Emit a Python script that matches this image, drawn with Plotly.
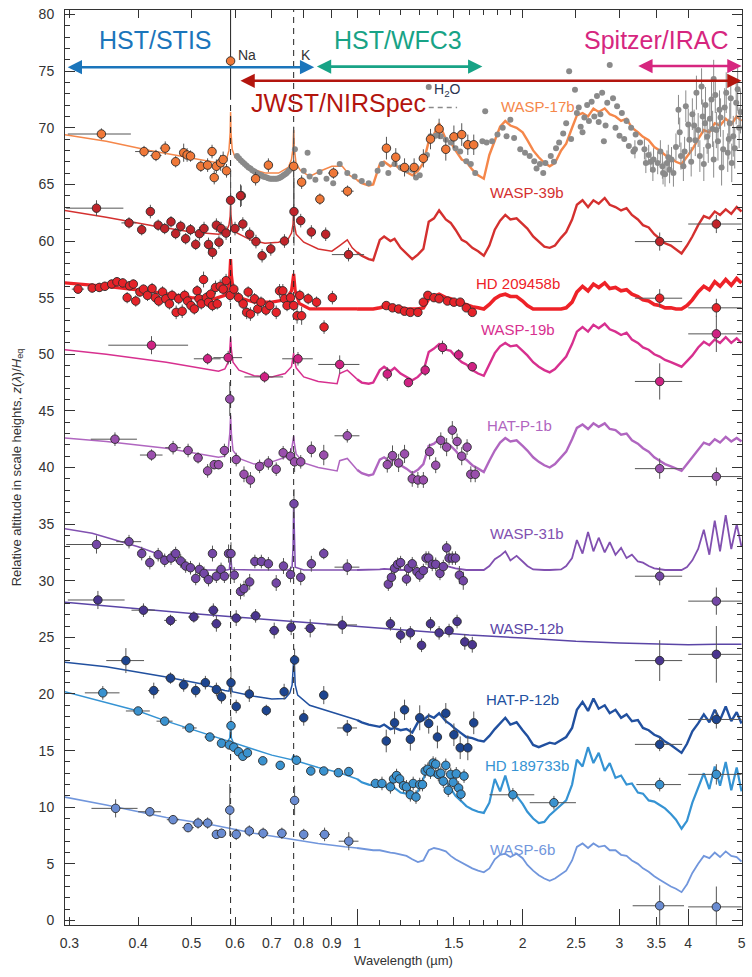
import numpy as np
import plotly.graph_objects as go

FONT = "Liberation Sans, Arial, sans-serif"

# Shared wavelength grid (um) for the near-infrared part of every model
nir_wl = [1.00, 1.02, 1.05, 1.07, 1.10, 1.12, 1.15, 1.17, 1.20, 1.23,
          1.26, 1.29, 1.32, 1.35, 1.38, 1.41, 1.45, 1.48, 1.51, 1.55,
          1.58, 1.62, 1.66, 1.70, 1.74, 1.78, 1.82, 1.86, 1.90, 1.95,
          2.00, 2.04, 2.09, 2.14, 2.19, 2.24, 2.29, 2.35, 2.40, 2.46,
          2.51, 2.57, 2.63, 2.69, 2.75, 2.82, 2.88, 2.95, 3.02, 3.09,
          3.16, 3.24, 3.31, 3.39, 3.47, 3.55, 3.63, 3.72, 3.80, 3.89,
          3.98, 4.07, 4.17, 4.27, 4.37, 4.47, 4.57, 4.68, 4.79, 4.90,
          5.00]

# ---------------- WASP-17b ----------------
w17_opt = [(0.294, 69.4), (0.35, 68.8), (0.42, 68.0), (0.50, 67.3), (0.56, 66.9),
           (0.578, 67.1), (0.585, 68.0), (0.588, 69.6), (0.589, 71.4), (0.590, 69.6),
           (0.593, 68.1), (0.60, 67.4), (0.62, 66.8), (0.65, 66.3), (0.68, 66.0),
           (0.72, 66.0), (0.75, 66.5), (0.76, 67.2), (0.765, 68.2), (0.767, 69.8),
           (0.769, 68.2), (0.775, 66.8), (0.79, 66.2), (0.82, 65.7), (0.86, 66.2),
           (0.90, 66.6), (0.94, 66.6), (0.97, 65.8), (1.00, 65.4)]
w17_nir = [65.4, 65.1, 64.9, 65.0, 66.8, 67.0, 66.6, 66.8, 66.3, 66.1,
           65.8, 66.2, 66.9, 68.8, 69.4, 70.4, 69.0, 68.7, 68.0, 67.2,
           67.0, 66.3, 65.8, 65.5, 67.6, 68.9, 70.1, 70.6, 70.2, 70.0,
           69.6, 68.9, 68.0, 67.4, 66.9, 66.6, 66.9, 68.0, 68.6, 70.0,
           71.1, 71.3, 71.0, 71.7, 71.4, 71.7, 71.2, 71.0, 70.6, 70.8,
           70.0, 69.6, 69.2, 68.9, 68.3, 68.0, 67.6, 67.3, 67.0, 66.8,
           67.5, 68.1, 69.0, 69.8, 69.6, 70.4, 70.2, 70.8, 70.3, 71.0,
           70.6]
w17_pts = [(0.343, 69.45, 0.5, 0.045), (0.410, 67.9, 0.5, 0.015), (0.431, 67.55, 0.5, 0.01),
           (0.448, 68.2, 0.6, 0.01), (0.468, 67.0, 0.5, 0.008), (0.484, 67.8, 0.8, 0.006),
           (0.491, 67.6, 0.6, 0.006), (0.498, 67.5, 0.5, 0.006), (0.520, 66.6, 0.5, 0.008),
           (0.535, 66.7, 0.6, 0.006), (0.545, 67.9, 0.6, 0.006), (0.550, 65.6, 0.6, 0.006),
           (0.555, 66.6, 0.6, 0.006), (0.565, 66.9, 0.7, 0.006), (0.571, 67.2, 0.7, 0.006),
           (0.579, 66.2, 0.6, 0.006), (0.589, 75.9, 0.3, 0.0), (0.616, 64.0, 0.9, 0.008),
           (0.654, 65.5, 0.6, 0.01), (0.690, 66.7, 0.6, 0.01), (0.767, 66.6, 3.5, 0.01),
           (0.793, 65.2, 0.6, 0.01), (0.856, 63.7, 0.5, 0.015), (0.906, 66.0, 0.5, 0.02),
           (0.961, 64.4, 0.5, 0.025), (1.131, 68.2, 1.0, 0.0), (1.176, 67.4, 0.8, 0.0),
           (1.22, 66.5, 0.8, 0.0), (1.27, 66.5, 0.8, 0.0), (1.32, 67.3, 0.8, 0.0),
           (1.36, 69.0, 0.9, 0.0), (1.41, 69.9, 0.9, 0.0), (1.45, 68.1, 1.0, 0.0),
           (1.50, 69.2, 1.0, 0.0), (1.55, 69.4, 1.0, 0.0), (1.59, 68.5, 0.9, 0.0),
           (1.63, 68.5, 0.9, 0.0)]

# grey WASP-17b points (no visible error bars)
grey_wl = [0.605, 0.61, 0.615, 0.62, 0.625, 0.63, 0.635, 0.64, 0.645, 0.65, 0.655, 0.66,
           0.665, 0.67, 0.675, 0.68, 0.685, 0.69, 0.695, 0.70, 0.705, 0.71, 0.715, 0.72,
           0.725, 0.73, 0.735, 0.74, 0.745, 0.75, 0.755, 0.76,
           0.771, 0.80, 0.813, 0.82, 0.84, 0.855, 0.88, 0.905, 0.93, 0.96, 0.99,
           1.02, 1.05, 1.09, 1.11, 1.14, 1.17, 1.20, 1.23, 1.26, 1.28, 1.30, 1.34, 1.36, 1.39,
           1.42, 1.45, 1.48, 1.51, 1.54, 1.58, 1.61, 1.64, 1.69, 1.72, 1.76, 1.35, 1.71, 1.80,
           1.84, 1.87, 1.90, 1.93, 1.98, 2.02, 2.06, 2.10, 2.15, 2.20, 2.25, 2.30, 2.33, 2.37,
           2.40, 2.43, 2.49, 2.51, 2.55, 2.59, 2.62, 2.67, 2.73, 2.79, 2.81, 2.85, 2.88, 2.92,
           2.97, 3.03, 3.09, 3.15, 3.21, 3.27, 2.70, 2.75, 2.95, 2.12, 2.18, 2.28, 2.45, 2.53,
           2.57, 2.64, 2.77, 2.83, 3.00, 3.06, 3.12, 3.18]
grey_y = [67.5, 67.3, 67.1, 66.95, 66.8, 66.65, 66.5, 66.4, 66.25, 66.15, 66.05, 65.95,
          65.85, 65.8, 65.7, 65.65, 65.6, 65.55, 65.5, 65.5, 65.5, 65.5, 65.5, 65.55,
          65.6, 65.7, 65.8, 65.9, 66.0, 66.15, 66.3, 66.45,
          68.1, 66.2, 67.8, 65.7, 65.4, 66.1, 65.5, 65.1, 66.8, 66.0, 65.7,
          65.3, 65.1, 66.2, 66.8, 66.0, 66.8, 66.5, 66.25, 66.3, 65.6, 65.8, 67.6, 69.25, 69.3,
          69.25, 68.95, 68.7, 68.2, 67.9, 67.05, 66.8, 66.0, 68.8, 68.7, 68.8, 73.6, 71.45, 69.4,
          70.0, 69.25, 70.7, 69.1, 68.1, 67.8, 67.5, 67.05, 66.8, 66.9, 67.5, 68.2, 68.7, 69.5,
          70.4, 75.0, 73.35, 71.3, 70.1, 70.9, 72.0, 72.3, 72.8, 73.1, 68.8, 72.2, 75.55, 72.6,
          71.9, 71.3, 70.6, 70.0, 69.4, 68.7, 71.0, 70.5, 70.0, 66.4, 66.0, 67.0, 69.0, 71.8,
          69.6, 70.6, 71.2, 70.2, 69.3, 69.0, 68.4, 67.9]
# grey points with error bars (Spitzer region)
grey2_wl = [3.20, 3.33, 3.35, 3.39, 3.45, 3.46, 3.52, 3.59, 3.60, 3.66, 3.70, 3.73, 3.76, 3.84,
            3.88, 3.92, 3.96, 4.02, 4.05, 4.10, 4.14, 4.20, 4.23, 4.27, 4.29, 4.30, 4.35, 4.41,
            4.45, 4.45, 4.50, 4.56, 4.60, 4.63, 4.69, 4.72, 4.76, 4.80, 4.83, 4.89, 4.95,
            3.42, 3.56, 3.63, 3.68, 3.80, 3.86, 3.94, 4.00, 4.07, 4.12, 4.17, 4.25, 4.33,
            4.38, 4.43, 4.48, 4.53, 4.58, 4.66, 4.74, 4.78, 4.86, 4.92, 4.98]
grey2_y = [68.1, 68.1, 66.9, 67.6, 66.3, 67.2, 66.9, 66.6, 66.0, 66.9, 66.3, 67.2, 66.0, 71.6,
           67.5, 66.6, 71.9, 68.95, 67.0, 70.2, 73.1, 67.5, 73.65, 66.8, 70.4, 72.0, 68.4, 72.5,
           67.2, 74.3, 69.8, 71.6, 66.5, 68.1, 73.1, 67.8, 70.4, 66.9, 69.25, 72.2, 70.0,
           67.0, 67.9, 65.9, 67.4, 68.3, 69.6, 67.9, 70.3, 71.2, 68.9, 69.8, 71.0, 69.2,
           70.8, 69.9, 72.9, 68.8, 70.9, 71.8, 69.0, 72.6, 68.2, 73.4, 71.4]
grey2_dy = [0.8, 0.9, 0.9, 0.9, 1.0, 1.0, 1.0, 1.1, 1.0, 1.1, 1.2, 1.1, 1.2, 1.3,
            1.2, 1.3, 1.4, 1.3, 1.3, 1.4, 1.5, 1.4, 1.6, 1.5, 1.5, 1.6, 1.5, 1.6,
            1.6, 1.7, 1.6, 1.7, 1.6, 1.7, 1.8, 1.7, 1.8, 1.7, 1.8, 1.9, 1.8,
            0.9, 1.0, 1.1, 1.1, 1.2, 1.3, 1.3, 1.4, 1.4, 1.4, 1.5, 1.5, 1.5,
            1.6, 1.6, 1.6, 1.7, 1.7, 1.7, 1.8, 1.8, 1.8, 1.9, 1.9]

# ---------------- WASP-39b ----------------
w39_opt = [(0.294, 62.7), (0.35, 62.1), (0.43, 61.3), (0.50, 60.8), (0.56, 60.6),
           (0.578, 60.8), (0.585, 61.4), (0.588, 62.2), (0.589, 63.2), (0.590, 62.2),
           (0.593, 61.3), (0.60, 60.8), (0.64, 60.1), (0.68, 59.8), (0.72, 59.9),
           (0.75, 60.2), (0.76, 60.7), (0.765, 61.5), (0.767, 62.9), (0.769, 61.5),
           (0.775, 60.6), (0.80, 59.9), (0.85, 59.3), (0.90, 59.1), (0.93, 59.6),
           (0.96, 60.1), (0.98, 59.4), (1.00, 59.0)]
w39_nir = [59.0, 58.7, 58.4, 58.3, 60.1, 60.4, 60.0, 60.2, 59.4, 58.9,
           58.4, 58.8, 59.3, 61.7, 62.0, 62.7, 61.9, 61.6, 61.0, 60.1,
           59.9, 59.4, 59.1, 58.7, 59.6, 61.0, 61.8, 62.3, 61.9, 62.0,
           61.5, 61.1, 60.4, 59.9, 59.5, 59.4, 59.6, 60.3, 60.8, 61.9,
           63.2, 63.6, 63.0, 63.6, 63.3, 63.8, 63.2, 63.0, 62.7, 62.9,
           62.3, 61.9, 61.4, 61.2, 60.6, 60.2, 59.8, 59.6, 59.3, 58.9,
           59.6, 60.4, 61.4, 62.2, 62.0, 62.6, 62.3, 62.8, 62.4, 63.0,
           62.6]
w39_pts = [(0.336, 62.9, 0.7, 0.04), (0.385, 61.6, 0.5, 0.012), (0.406, 61.0, 0.5, 0.006),
           (0.421, 62.6, 0.6, 0.006), (0.435, 61.4, 0.5, 0.006), (0.447, 61.1, 0.5, 0.006),
           (0.459, 61.7, 0.5, 0.006), (0.468, 60.65, 0.5, 0.006), (0.478, 61.3, 0.5, 0.006),
           (0.488, 60.2, 0.5, 0.006), (0.498, 61.0, 0.5, 0.006), (0.509, 59.7, 0.5, 0.006),
           (0.517, 60.65, 0.6, 0.006), (0.527, 61.1, 0.6, 0.006), (0.537, 59.7, 0.6, 0.006),
           (0.546, 59.0, 0.6, 0.006), (0.555, 61.4, 0.6, 0.006), (0.561, 59.9, 0.6, 0.006),
           (0.566, 61.1, 0.6, 0.006), (0.578, 60.7, 0.6, 0.006), (0.589, 63.6, 2.5, 0.004),
           (0.600, 61.1, 0.6, 0.006), (0.614, 64.0, 1.0, 0.008), (0.620, 61.5, 0.6, 0.008),
           (0.638, 60.6, 0.6, 0.008), (0.655, 59.95, 0.6, 0.008), (0.672, 58.7, 0.6, 0.01),
           (0.697, 59.3, 0.6, 0.01), (0.738, 60.0, 0.6, 0.01), (0.768, 62.6, 3.0, 0.005),
           (0.790, 61.8, 0.6, 0.01), (0.826, 60.8, 0.6, 0.012), (0.877, 60.6, 0.6, 0.015),
           (0.965, 58.8, 0.6, 0.065), (3.55, 59.95, 0.8, 0.35), (4.5, 61.5, 0.8, 0.5)]

# ---------------- HD 209458b ----------------
hd209_opt = [(0.294, 56.3), (0.35, 56.0), (0.43, 55.5), (0.50, 55.0), (0.55, 54.9),
             (0.575, 55.2), (0.583, 55.8), (0.587, 57.0), (0.589, 58.4), (0.591, 57.0),
             (0.595, 55.8), (0.61, 55.0), (0.65, 54.6), (0.70, 54.6), (0.74, 54.8),
             (0.76, 55.6), (0.767, 57.1), (0.772, 55.6), (0.785, 54.5), (0.82, 54.0),
             (0.90, 54.0), (0.97, 54.0), (1.00, 54.0)]
hd209_nir = [54.0, 54.0, 54.0, 54.0, 54.1, 54.2, 54.1, 54.2, 54.1, 54.0,
             54.0, 54.0, 54.1, 54.9, 55.1, 55.3, 55.0, 54.9, 54.7, 54.5,
             54.4, 54.2, 54.1, 54.0, 54.4, 54.9, 55.2, 55.3, 55.1, 55.1,
             54.7, 54.3, 54.0, 54.0, 54.0, 54.0, 54.0, 54.0, 54.1, 54.6,
             55.5, 56.0, 55.6, 56.2, 55.9, 56.3, 55.8, 55.9, 55.6, 55.7,
             55.3, 55.1, 54.8, 54.7, 54.4, 54.3, 54.1, 54.1, 54.0, 54.0,
             54.3, 54.8, 55.5, 56.0, 55.7, 56.4, 56.0, 56.6, 56.1, 56.7,
             56.3]
hd209_pts = [(0.311, 55.75, 0.4, 0.008), (0.330, 55.85, 0.4, 0.006), (0.340, 55.9, 0.4, 0.006),
             (0.348, 56.0, 0.4, 0.005), (0.358, 56.2, 0.4, 0.005), (0.366, 56.4, 0.4, 0.005),
             (0.375, 56.3, 0.4, 0.005), (0.382, 55.0, 0.5, 0.004), (0.386, 56.05, 0.4, 0.004),
             (0.392, 56.2, 0.4, 0.004), (0.396, 54.7, 0.5, 0.004), (0.403, 55.5, 0.4, 0.004),
             (0.409, 55.75, 0.4, 0.004), (0.416, 55.2, 0.5, 0.004), (0.424, 55.8, 0.5, 0.004),
             (0.430, 55.0, 0.5, 0.004), (0.436, 54.7, 0.5, 0.004), (0.443, 55.5, 0.5, 0.004),
             (0.449, 54.9, 0.5, 0.004), (0.456, 54.45, 0.5, 0.004), (0.461, 55.2, 0.5, 0.004),
             (0.469, 53.7, 0.6, 0.004), (0.474, 54.9, 0.5, 0.004), (0.481, 53.8, 0.6, 0.004),
             (0.486, 55.2, 0.5, 0.004), (0.492, 54.7, 0.5, 0.004), (0.499, 54.3, 0.5, 0.004),
             (0.506, 54.0, 0.5, 0.004), (0.512, 55.6, 0.5, 0.004), (0.516, 54.9, 0.5, 0.004),
             (0.521, 54.45, 0.5, 0.004), (0.526, 56.6, 0.7, 0.004), (0.532, 55.0, 0.5, 0.004),
             (0.537, 54.6, 0.5, 0.004), (0.542, 55.3, 0.5, 0.004), (0.546, 54.3, 0.5, 0.004),
             (0.553, 55.9, 0.6, 0.004), (0.557, 54.45, 0.5, 0.004), (0.564, 56.0, 0.6, 0.004),
             (0.571, 55.75, 0.5, 0.004), (0.578, 56.5, 0.6, 0.004), (0.588, 55.2, 0.6, 0.004),
             (0.597, 55.75, 0.5, 0.004), (0.609, 55.0, 0.5, 0.004), (0.621, 54.45, 0.5, 0.004),
             (0.630, 53.7, 0.6, 0.004), (0.634, 55.5, 0.5, 0.004), (0.640, 53.55, 0.6, 0.004),
             (0.651, 54.9, 0.5, 0.004), (0.660, 54.0, 0.6, 0.004), (0.669, 54.6, 0.5, 0.004),
             (0.683, 53.9, 0.5, 0.004), (0.694, 54.3, 0.5, 0.004), (0.713, 53.7, 0.6, 0.004),
             (0.723, 55.6, 0.6, 0.004), (0.733, 55.6, 0.6, 0.004), (0.738, 54.9, 0.5, 0.004),
             (0.746, 54.3, 0.5, 0.004), (0.757, 55.0, 0.5, 0.004), (0.767, 54.3, 0.5, 0.004),
             (0.778, 53.4, 0.7, 0.004), (0.787, 55.2, 0.5, 0.004), (0.793, 53.4, 0.8, 0.004),
             (0.815, 54.9, 0.5, 0.005), (0.844, 54.6, 0.5, 0.005), (0.871, 52.4, 0.6, 0.005),
             (0.902, 55.0, 0.6, 0.005), (1.13, 54.3, 0.2, 0.0), (1.16, 54.1, 0.2, 0.0),
             (1.19, 54.0, 0.2, 0.0), (1.22, 53.8, 0.2, 0.0), (1.25, 53.7, 0.2, 0.0),
             (1.29, 53.7, 0.2, 0.0), (1.32, 54.6, 0.2, 0.0), (1.345, 55.2, 0.2, 0.0),
             (1.38, 55.0, 0.2, 0.0), (1.41, 54.9, 0.2, 0.0), (1.46, 54.7, 0.2, 0.0),
             (1.50, 54.6, 0.2, 0.0), (1.54, 54.6, 0.2, 0.0), (1.58, 54.1, 0.2, 0.0),
             (1.62, 53.7, 0.2, 0.0), (3.55, 54.95, 0.8, 0.35), (4.5, 54.1, 0.8, 0.5)]

# ---------------- WASP-19b ----------------
w19_opt = [(0.294, 50.4), (0.35, 50.0), (0.45, 49.3), (0.52, 48.8), (0.56, 48.5),
           (0.575, 48.7), (0.583, 49.3), (0.587, 50.4), (0.589, 51.5), (0.591, 50.4),
           (0.595, 49.3), (0.61, 48.6), (0.65, 48.1), (0.70, 48.0), (0.74, 48.3),
           (0.76, 48.9), (0.765, 49.6), (0.767, 50.1), (0.769, 49.6), (0.775, 48.8),
           (0.80, 48.0), (0.85, 47.6), (0.92, 47.4), (0.93, 48.3), (0.96, 48.6), (0.98, 48.2),
           (1.00, 47.8)]
w19_nir = [47.8, 47.5, 47.4, 47.5, 48.6, 48.9, 48.5, 48.8, 48.3, 48.0,
           47.7, 48.0, 48.5, 50.2, 50.5, 50.9, 50.4, 50.3, 49.8, 49.3,
           49.1, 48.6, 48.3, 48.1, 49.1, 50.1, 50.7, 51.0, 50.7, 50.8,
           50.3, 49.9, 49.3, 48.9, 48.6, 48.4, 48.7, 49.3, 49.8, 50.9,
           52.0, 52.4, 52.0, 52.6, 52.3, 52.7, 52.2, 52.0, 51.7, 51.9,
           51.3, 51.0, 50.6, 50.4, 50.0, 49.8, 49.5, 49.3, 49.1, 48.9,
           49.4, 49.9, 50.6, 51.1, 50.8, 51.3, 51.0, 51.5, 51.0, 51.4,
           51.0]
w19_pts = [(0.423, 50.8, 0.8, 0.07), (0.535, 49.6, 0.5, 0.03), (0.583, 49.7, 0.6, 0.035),
           (0.679, 48.0, 0.5, 0.055), (0.781, 49.6, 0.6, 0.05), (0.93, 49.1, 0.8, 0.08),
           (1.135, 48.25, 0.6, 0.0), (1.24, 47.5, 0.4, 0.02), (1.33, 48.6, 0.5, 0.02),
           (1.43, 50.6, 0.6, 0.02), (1.53, 49.95, 0.5, 0.02), (1.62, 48.9, 0.4, 0.02),
           (3.55, 47.6, 1.6, 0.35), (4.5, 51.8, 1.6, 0.5)]

# ---------------- HAT-P-1b ----------------
hp1_opt = [(0.294, 42.6), (0.35, 42.3), (0.45, 41.7), (0.52, 41.2), (0.56, 40.9),
           (0.575, 41.0), (0.583, 41.6), (0.587, 43.0), (0.589, 44.6), (0.591, 43.0),
           (0.595, 41.5), (0.61, 40.8), (0.65, 40.3), (0.70, 40.5), (0.74, 40.9),
           (0.76, 41.5), (0.765, 42.2), (0.767, 42.8), (0.769, 42.2), (0.775, 41.2),
           (0.80, 40.4), (0.85, 40.0), (0.92, 39.7), (0.93, 40.6), (0.96, 40.8), (0.99, 40.0),
           (1.00, 39.8)]
hp1_nir = [39.8, 39.5, 39.3, 39.4, 40.7, 40.9, 40.5, 40.7, 40.2, 39.9,
           39.5, 39.8, 40.3, 41.9, 42.1, 42.5, 42.1, 41.9, 41.5, 40.8,
           40.7, 40.2, 39.9, 39.6, 40.6, 41.5, 42.2, 42.6, 42.3, 42.4,
           41.9, 41.5, 40.9, 40.5, 40.2, 40.0, 40.3, 40.9, 41.4, 42.5,
           43.5, 43.8, 43.4, 43.9, 43.6, 43.9, 43.4, 43.3, 42.9, 43.0,
           42.4, 42.1, 41.7, 41.4, 40.9, 40.6, 40.3, 40.1, 39.9, 39.7,
           40.3, 40.9, 41.6, 42.2, 42.0, 42.5, 42.2, 42.7, 42.3, 42.6,
           42.3]
hp1_pts = [(0.363, 42.5, 0.6, 0.035), (0.423, 41.1, 0.5, 0.02), (0.463, 41.75, 0.6, 0.015),
           (0.493, 41.5, 0.6, 0.01), (0.514, 40.85, 0.5, 0.01), (0.535, 39.7, 0.6, 0.008),
           (0.550, 40.25, 0.4, 0.006), (0.560, 40.25, 0.4, 0.006), (0.574, 41.5, 0.6, 0.006),
           (0.587, 46.05, 1.5, 0.003), (0.603, 40.7, 0.6, 0.008), (0.623, 39.4, 0.7, 0.008),
           (0.640, 38.9, 0.7, 0.008), (0.665, 40.1, 0.6, 0.01), (0.690, 40.4, 0.6, 0.01),
           (0.713, 39.85, 0.6, 0.01), (0.734, 41.3, 0.6, 0.01), (0.757, 41.0, 0.7, 0.01),
           (0.770, 40.5, 0.9, 0.005), (0.790, 40.5, 0.6, 0.01), (0.826, 41.6, 0.7, 0.012),
           (0.870, 41.1, 0.9, 0.015), (0.960, 42.8, 0.6, 0.05), (1.135, 40.25, 0.7, 0.0),
           (1.16, 41.05, 0.9, 0.0), (1.19, 40.4, 0.8, 0.0), (1.22, 41.2, 0.8, 0.0),
           (1.26, 39.0, 0.7, 0.0), (1.29, 38.9, 0.7, 0.0), (1.32, 38.9, 0.7, 0.0),
           (1.355, 41.4, 0.7, 0.0), (1.39, 40.2, 0.7, 0.0), (1.42, 42.4, 0.7, 0.0),
           (1.455, 41.8, 0.8, 0.0), (1.49, 43.3, 0.8, 0.0), (1.52, 42.3, 0.7, 0.0),
           (1.55, 41.0, 0.8, 0.0), (1.585, 41.8, 0.7, 0.0), (1.61, 39.4, 0.7, 0.0),
           (1.64, 39.4, 0.7, 0.0), (3.55, 39.9, 0.9, 0.35), (4.5, 39.2, 0.8, 0.5)]

# ---------------- WASP-31b ----------------
w31_opt = [(0.294, 34.6), (0.33, 34.2), (0.40, 33.0), (0.45, 32.1), (0.50, 31.2),
           (0.53, 30.95), (0.58, 30.95), (0.586, 31.0), (0.588, 32.0), (0.589, 32.6),
           (0.590, 32.0), (0.592, 31.0), (0.65, 30.95), (0.75, 30.95), (0.762, 31.2),
           (0.765, 33.0), (0.767, 37.0), (0.769, 33.0), (0.772, 31.2), (0.80, 30.95),
           (0.98, 30.95), (1.00, 30.95)]
w31_nir = [30.95, 30.95, 30.95, 30.95, 31.0, 31.05, 31.0, 31.0, 30.95, 30.95,
           30.95, 30.95, 30.95, 31.2, 31.3, 31.5, 31.3, 31.2, 31.1, 31.0,
           30.95, 30.95, 30.95, 30.95, 31.3, 31.9, 32.2, 32.6, 31.8, 32.2,
           31.7, 31.3, 31.0, 30.95, 30.95, 30.95, 30.95, 31.0, 31.3, 32.0,
           33.6, 32.4, 34.3, 32.6, 33.8, 32.5, 33.4, 32.3, 32.9, 32.0,
           32.3, 31.7, 31.6, 31.3, 31.1, 31.0, 30.95, 30.95, 30.95, 30.95,
           31.2, 31.8, 32.8, 34.5, 32.3, 35.3, 32.6, 35.8, 32.8, 35.0,
           33.0]
w31_pts = [(0.336, 33.2, 0.8, 0.04), (0.385, 33.45, 0.6, 0.02), (0.406, 32.4, 0.6, 0.006),
           (0.420, 31.6, 0.6, 0.006), (0.435, 32.3, 0.6, 0.006), (0.447, 31.8, 0.6, 0.006),
           (0.459, 32.0, 0.6, 0.006), (0.468, 32.4, 0.6, 0.006), (0.478, 31.75, 0.6, 0.006),
           (0.488, 31.3, 0.6, 0.006), (0.498, 31.15, 0.6, 0.006), (0.509, 30.2, 0.6, 0.006),
           (0.517, 31.0, 0.6, 0.006), (0.527, 30.65, 0.6, 0.006), (0.537, 30.1, 0.6, 0.006),
           (0.546, 32.4, 0.7, 0.006), (0.555, 30.4, 0.6, 0.006), (0.566, 31.0, 0.6, 0.006),
           (0.574, 30.4, 0.6, 0.006), (0.584, 32.4, 0.8, 0.004), (0.590, 32.4, 1.0, 0.004),
           (0.598, 30.5, 0.7, 0.006), (0.614, 29.05, 0.7, 0.008), (0.623, 29.3, 0.7, 0.008),
           (0.638, 29.9, 0.7, 0.008), (0.652, 31.7, 0.6, 0.008), (0.670, 31.7, 0.6, 0.01),
           (0.690, 31.5, 0.6, 0.01), (0.713, 29.8, 0.7, 0.01), (0.735, 31.3, 0.7, 0.01),
           (0.757, 30.55, 0.7, 0.01), (0.768, 36.8, 1.3, 0.005), (0.790, 30.3, 0.7, 0.01),
           (0.826, 31.5, 0.7, 0.012), (0.870, 32.4, 0.5, 0.015), (0.960, 31.2, 0.7, 0.05),
           (1.14, 29.7, 0.6, 0.0), (1.155, 30.3, 0.6, 0.0), (1.17, 31.1, 0.6, 0.0),
           (1.185, 31.45, 0.6, 0.0), (1.20, 31.6, 0.6, 0.0), (1.23, 30.15, 0.6, 0.0),
           (1.24, 31.1, 0.6, 0.0), (1.26, 31.5, 0.6, 0.0), (1.285, 30.8, 0.6, 0.0),
           (1.30, 30.5, 0.6, 0.0), (1.32, 30.9, 0.6, 0.0), (1.335, 32.0, 0.6, 0.0),
           (1.35, 32.0, 0.6, 0.0), (1.37, 31.45, 0.6, 0.0), (1.39, 31.45, 0.6, 0.0),
           (1.415, 30.65, 0.6, 0.0), (1.435, 31.25, 0.6, 0.0), (1.455, 32.9, 0.6, 0.0),
           (1.47, 32.0, 0.6, 0.0), (1.49, 32.0, 0.6, 0.0), (1.51, 32.0, 0.6, 0.0),
           (1.535, 30.5, 0.8, 0.0), (1.56, 30.0, 0.8, 0.0), (3.55, 30.4, 0.8, 0.35),
           (4.5, 28.2, 1.2, 0.5)]

# ---------------- WASP-12b ----------------
w12_model = [(0.294, 28.1), (0.40, 27.5), (0.50, 27.1), (0.60, 26.8), (0.70, 26.55),
             (0.80, 26.35), (1.00, 25.95), (1.30, 25.55), (1.60, 25.2), (2.00, 24.95),
             (2.50, 24.65), (3.00, 24.5), (3.50, 24.4), (4.00, 24.35), (4.50, 24.4),
             (5.00, 24.4)]
w12_pts = [(0.338, 28.3, 0.8, 0.04), (0.409, 27.4, 0.6, 0.02), (0.458, 26.5, 0.5, 0.012),
           (0.505, 26.8, 0.5, 0.012), (0.548, 27.4, 0.6, 0.012), (0.555, 26.2, 0.7, 0.012),
           (0.603, 26.7, 0.7, 0.015), (0.654, 26.9, 0.6, 0.015), (0.707, 25.6, 0.7, 0.015),
           (0.759, 25.9, 0.7, 0.015), (0.822, 25.8, 0.8, 0.02), (0.940, 26.1, 0.8, 0.06),
           (1.15, 26.2, 0.6, 0.0), (1.20, 25.2, 0.7, 0.0), (1.25, 25.4, 0.6, 0.0),
           (1.31, 24.3, 0.6, 0.0), (1.36, 26.2, 0.6, 0.0), (1.41, 25.4, 0.6, 0.0),
           (1.47, 25.6, 0.6, 0.0), (1.52, 26.4, 0.6, 0.0), (1.57, 24.6, 0.7, 0.0),
           (1.62, 24.35, 0.7, 0.0), (3.55, 22.95, 1.8, 0.35), (4.5, 23.5, 2.5, 0.5)]

# ---------------- HAT-P-12b ----------------
hp12_opt = [(0.294, 22.8), (0.35, 22.4), (0.45, 21.5), (0.52, 20.9), (0.575, 20.3),
            (0.585, 20.25), (0.588, 20.9), (0.589, 21.2), (0.590, 20.9), (0.593, 20.2),
            (0.65, 19.8), (0.70, 19.55), (0.74, 19.6), (0.755, 20.1), (0.762, 20.8),
            (0.766, 23.4), (0.768, 23.4), (0.772, 20.8), (0.78, 19.9), (0.82, 19.0),
            (0.90, 18.4), (0.97, 17.9), (1.00, 17.7)]
hp12_nir = [17.7, 17.5, 17.3, 17.2, 17.1, 17.3, 16.9, 17.0, 16.8, 16.9,
            16.6, 17.5, 17.7, 18.1, 17.9, 18.3, 17.6, 17.3, 16.9, 16.5,
            16.2, 16.1, 15.9, 15.8, 16.3, 16.9, 17.4, 17.9, 17.3, 17.5,
            16.8, 16.3, 15.5, 15.3, 15.5, 15.7, 15.6, 15.9, 16.2, 17.0,
            18.6, 19.3, 18.5, 19.6, 18.7, 19.0, 18.3, 18.6, 17.9, 18.2,
            17.6, 17.7, 17.0, 16.8, 16.4, 16.2, 15.8, 15.5, 15.2, 14.8,
            15.6, 16.7, 17.4, 18.2, 17.5, 18.6, 17.7, 18.9, 17.6, 18.4,
            17.4]
hp12_pts = [(0.380, 22.95, 1.1, 0.03), (0.427, 20.3, 0.7, 0.01), (0.458, 21.4, 0.5, 0.01),
            (0.484, 20.8, 0.6, 0.01), (0.509, 20.3, 0.6, 0.01), (0.530, 21.0, 0.6, 0.01),
            (0.555, 20.4, 0.6, 0.01), (0.567, 19.75, 0.6, 0.01), (0.590, 21.0, 1.3, 0.006),
            (0.603, 18.9, 0.6, 0.01), (0.637, 20.0, 0.7, 0.01), (0.684, 18.55, 0.5, 0.01),
            (0.737, 20.2, 0.7, 0.01), (0.770, 23.0, 1.0, 0.004), (0.800, 17.9, 0.7, 0.012),
            (0.870, 19.9, 0.8, 0.015), (0.960, 17.0, 0.7, 0.04), (1.13, 15.85, 1.0, 0.0),
            (1.17, 17.45, 1.0, 0.0), (1.22, 18.6, 0.9, 0.0), (1.25, 16.0, 1.0, 0.0),
            (1.30, 17.9, 1.1, 0.0), (1.35, 17.4, 0.9, 0.0), (1.40, 16.2, 1.0, 0.0),
            (1.45, 18.3, 0.9, 0.0), (1.50, 16.4, 1.0, 0.0), (1.54, 15.25, 1.0, 0.0),
            (1.59, 15.25, 1.1, 0.0), (1.63, 17.45, 1.0, 0.0), (3.55, 15.55, 0.6, 0.35),
            (4.5, 17.75, 0.8, 0.5)]

# ---------------- HD 189733b ----------------
hd189_opt = [(0.294, 20.2), (0.35, 19.2), (0.40, 18.5), (0.45, 17.6), (0.50, 16.9),
             (0.55, 16.2), (0.582, 15.85), (0.587, 16.1), (0.589, 17.3), (0.591, 16.1),
             (0.596, 15.7), (0.65, 15.1), (0.70, 14.6), (0.76, 14.2), (0.767, 14.6),
             (0.775, 14.1), (0.85, 13.5), (0.93, 13.05), (1.00, 12.5)]
hd189_nir = [12.5, 12.2, 12.0, 11.9, 11.8, 11.9, 11.6, 11.7, 11.3, 11.2,
             10.9, 11.4, 12.6, 13.6, 12.8, 13.3, 12.3, 11.6, 11.0, 10.5,
             10.1, 9.8, 9.6, 9.5, 10.4, 12.5, 11.4, 12.8, 11.2, 11.0,
             10.3, 9.6, 9.0, 8.6, 8.7, 9.3, 9.7, 10.2, 10.6, 12.0,
             14.2, 13.6, 15.3, 13.9, 14.8, 13.2, 13.9, 12.6, 12.8, 12.0,
             12.1, 11.3, 11.2, 10.6, 10.5, 10.2, 9.9, 9.4, 8.9, 8.1,
             8.8, 10.4, 11.8, 13.0, 11.6, 13.6, 11.9, 14.0, 11.5, 13.5,
             11.4]
hd189_pts = [(0.345, 20.1, 0.6, 0.025), (0.400, 18.5, 0.3, 0.02), (0.447, 17.6, 0.3, 0.015),
             (0.496, 17.0, 0.3, 0.015), (0.540, 16.2, 0.3, 0.012), (0.567, 15.65, 0.3, 0.006),
             (0.586, 15.5, 0.3, 0.004), (0.590, 17.2, 0.8, 0.003), (0.597, 15.3, 0.4, 0.004),
             (0.609, 14.9, 0.4, 0.004), (0.620, 14.5, 0.4, 0.004), (0.632, 14.8, 0.4, 0.004),
             (0.674, 14.1, 0.3, 0.012), (0.725, 13.7, 0.3, 0.012), (0.776, 14.15, 0.4, 0.012),
             (0.824, 13.2, 0.3, 0.012), (0.870, 13.2, 0.3, 0.012), (0.925, 13.05, 0.3, 0.012),
             (0.966, 13.15, 0.3, 0.015), (1.08, 12.1, 0.3, 0.015), (1.11, 12.1, 0.6, 0.0),
             (1.15, 11.8, 0.6, 0.0), (1.165, 12.5, 0.6, 0.0), (1.18, 12.8, 0.6, 0.0),
             (1.195, 12.5, 0.6, 0.0), (1.215, 11.9, 0.6, 0.0), (1.23, 11.8, 0.6, 0.0),
             (1.25, 11.1, 0.6, 0.0), (1.265, 12.1, 0.6, 0.0), (1.28, 10.9, 0.6, 0.0),
             (1.30, 12.0, 0.6, 0.0), (1.315, 12.0, 0.6, 0.0), (1.33, 13.2, 0.6, 0.0),
             (1.345, 13.35, 0.6, 0.0), (1.36, 13.1, 0.6, 0.0), (1.375, 13.9, 0.6, 0.0),
             (1.39, 13.8, 0.6, 0.0), (1.405, 12.9, 0.6, 0.0), (1.42, 13.0, 0.6, 0.0),
             (1.435, 12.3, 0.6, 0.0), (1.45, 13.7, 0.6, 0.0), (1.465, 11.5, 0.6, 0.0),
             (1.48, 12.9, 0.6, 0.0), (1.495, 12.2, 0.6, 0.0), (1.515, 12.95, 0.6, 0.0),
             (1.53, 11.7, 0.6, 0.0), (1.545, 11.15, 0.6, 0.0), (1.565, 12.75, 0.6, 0.0),
             (1.92, 11.1, 0.6, 0.18), (2.28, 10.4, 0.6, 0.22), (3.55, 12.0, 0.6, 0.33),
             (4.5, 12.9, 0.9, 0.5)]

# ---------------- WASP-6b ----------------
w6_opt = [(0.294, 10.9), (0.35, 10.2), (0.45, 9.1), (0.55, 8.4), (0.65, 7.7),
          (0.75, 7.2), (0.85, 6.8), (0.95, 6.5), (1.00, 6.4)]
w6_nir = [6.4, 6.35, 6.3, 6.2, 6.2, 6.1, 6.0, 5.95, 5.85, 5.7,
          5.4, 5.15, 5.3, 6.2, 6.4, 6.3, 6.1, 5.7, 5.4, 5.1,
          4.9, 4.6, 4.4, 4.25, 4.6, 5.4, 5.8, 5.9, 5.6, 5.9,
          5.5, 4.9, 4.4, 4.0, 3.7, 3.5, 3.7, 4.1, 4.4, 5.3,
          6.5, 6.8, 6.4, 6.8, 6.5, 6.6, 6.2, 6.2, 5.8, 5.7,
          5.3, 5.0, 4.6, 4.3, 3.9, 3.6, 3.3, 3.0, 2.8, 2.5,
          3.2, 4.2, 5.0, 5.7, 5.5, 6.0, 5.6, 6.1, 5.7, 5.6,
          5.2]
w6_pts = [(0.364, 9.9, 0.8, 0.035), (0.420, 9.6, 0.4, 0.02), (0.463, 8.9, 0.4, 0.012),
          (0.493, 8.2, 0.4, 0.012), (0.514, 8.6, 0.5, 0.012), (0.535, 8.6, 0.5, 0.012),
          (0.555, 7.6, 0.4, 0.008), (0.567, 7.7, 0.4, 0.008), (0.587, 9.75, 2.3, 0.003),
          (0.603, 7.6, 0.5, 0.012), (0.637, 7.9, 0.5, 0.012), (0.675, 7.7, 0.5, 0.015),
          (0.730, 7.7, 0.5, 0.015), (0.770, 10.6, 1.3, 0.004), (0.800, 7.6, 0.5, 0.015),
          (0.873, 7.6, 0.6, 0.02), (0.966, 7.0, 0.8, 0.04), (3.55, 1.3, 1.8, 0.38),
          (4.5, 1.2, 1.8, 0.5)]

planets = [
    # name, optical model, nir model, points, line colour, marker colour, label (wl, y), nir width
    ("WASP-17b", w17_opt, w17_nir, w17_pts, "#f5874a", "#f07838", (2.13, 71.9), 2.4),
    ("WASP-39b", w39_opt, w39_nir, w39_pts, "#d4302f", "#c0242a", (2.04, 64.3), 2.4),
    ("HD 209458b", hd209_opt, hd209_nir, hd209_pts, "#ee2228", "#e52329", (1.96, 56.25), 3.6),
    ("WASP-19b", w19_opt, w19_nir, w19_pts, "#d7308f", "#cf2283", (1.96, 52.2), 2.4),
    ("HAT-P-1b", hp1_opt, hp1_nir, hp1_pts, "#b066c0", "#9a4fad", (1.97, 43.75), 2.4),
    ("WASP-31b", w31_opt, w31_nir, w31_pts, "#8150b0", "#7447a6", (2.04, 34.15), 1.8),
    ("WASP-12b", w12_model, [], w12_pts, "#5a45a6", "#4a358f", (2.04, 25.8), 1.5),
    ("HAT-P-12b", hp12_opt, hp12_nir, hp12_pts, "#21509f", "#1d4590", (2.0, 19.5), 2.4),
    ("HD 189733b", hd189_opt, hd189_nir, hd189_pts, "#3593d3", "#3a92cf", (2.04, 13.7), 2.2),
    ("WASP-6b", w6_opt, w6_nir, w6_pts, "#7196dc", "#6a8cd2", (2.0, 6.25), 1.8),
]

fig = go.Figure()

# Model spectra: thin optical part, thicker (noisy) near-infrared part
for name, opt, nir, pts, lc, mc, lab, nw in planets:
    fig.add_trace(go.Scatter(
        x=[p[0] for p in opt], y=[p[1] for p in opt], mode="lines", hoverinfo="skip",
        showlegend=False,
        line=dict(color=lc, width=3.2 if name == "HD 209458b" else 1.5)
    ))
    if nir:
        fig.add_trace(go.Scatter(
            x=nir_wl, y=nir, mode="lines", hoverinfo="skip", showlegend=False,
            line=dict(color=lc, width=nw)
        ))

# Na and K reference lines
na_wl, k_wl = 0.589, 0.767
fig.add_trace(go.Scatter(x=[na_wl, na_wl], y=[72.5, 80.4], mode="lines",
                         line=dict(color="#222", width=1), showlegend=False, hoverinfo="skip"))
for wl, top in [(na_wl, 72.5), (k_wl, 80.4)]:
    fig.add_trace(go.Scatter(x=[wl, wl], y=[-0.4, top], mode="lines",
                             line=dict(color="#222", width=1, dash="6px,5px"),
                             showlegend=False, hoverinfo="skip"))

# Grey WASP-17b points
fig.add_trace(go.Scatter(x=grey_wl, y=grey_y, mode="markers", showlegend=False,
                         marker=dict(color="#8a8a8a", size=6)))
fig.add_trace(go.Scatter(x=grey2_wl, y=grey2_y, mode="markers", showlegend=False,
                         marker=dict(color="#8a8a8a", size=6),
                         error_y=dict(type="data", array=grey2_dy, color="#8a8a8a",
                                      thickness=1, width=0)))

# Observed points
for name, opt, nir, pts, lc, mc, lab, nw in planets:
    fig.add_trace(go.Scatter(
        x=[p[0] for p in pts], y=[p[1] for p in pts], mode="markers", showlegend=False,
        marker=dict(color=mc, size=8.5, line=dict(color="#2b2b2b", width=0.9)),
        error_y=dict(type="data", array=[p[2] for p in pts], color="#555",
                     thickness=1, width=0),
        error_x=dict(type="data", array=[p[3] for p in pts], color="#555",
                     thickness=1, width=0),
    ))

# H2O legend dash
fig.add_trace(go.Scatter(x=[1.35, 1.52], y=[71.8, 71.8], mode="lines", showlegend=False,
                         line=dict(color="#8a8a8a", width=1.5, dash="5px,4px")))

annotations = []
for name, opt, nir, pts, lc, mc, lab, nw in planets:
    annotations.append(dict(x=np.log10(lab[0]), y=lab[1], text=name, showarrow=False,
                            font=dict(family=FONT, size=15, color=lc)))

# Instrument ranges
inst_names = ["HST/STIS", "HST/WFC3", "Spitzer/IRAC", "JWST/NIRSpec"]
inst_colors = ["#1b75bb", "#18a386", "#d6267f", "#b3150e"]
inst_start = [0.296, 0.84, 3.225, 0.61]
inst_end = [0.836, 1.69, 5.0, 5.0]
inst_arrow_y = [75.35, 75.4, 75.45, 74.15]
inst_label_wl = [0.43, 1.187, 3.49, 0.925]
inst_label_y = [77.75, 77.75, 77.75, 72.15]

for nm, col, s, e, ay, lw, ly in zip(inst_names, inst_colors, inst_start, inst_end,
                                     inst_arrow_y, inst_label_wl, inst_label_y):
    annotations.append(dict(
        x=np.log10(e), y=ay, ax=np.log10(s), ay=ay, xref="x", yref="y", axref="x", ayref="y",
        text="", showarrow=True, arrowside="end+start", arrowhead=2, startarrowhead=2,
        arrowsize=1.1, startarrowsize=1.1, arrowwidth=2.6, arrowcolor=col,
        standoff=0, startstandoff=0))
    annotations.append(dict(x=np.log10(lw), y=ly, text=nm, showarrow=False,
                            font=dict(family=FONT, size=25, color=col)))

annotations += [
    dict(x=np.log10(0.603), y=76.45, text="Na", showarrow=False, xanchor="left",
         font=dict(family=FONT, size=14, color="#333")),
    dict(x=np.log10(0.783), y=76.45, text="K", showarrow=False, xanchor="left",
         font=dict(family=FONT, size=14, color="#333")),
    dict(x=np.log10(1.46), y=73.3, text="H<sub>2</sub>O", showarrow=False,
         font=dict(family=FONT, size=14, color="#2b3550")),
]

x_ticks = [0.3, 0.4, 0.5, 0.6, 0.7, 0.8, 0.9, 1, 1.5, 2, 2.5, 3, 3.5, 4, 5]
x_minor = [1.1, 1.2, 1.3, 1.4, 1.6, 1.7, 1.8, 1.9]
x_long = [1, 2, 3, 4]
x_range = [np.log10(0.2945), np.log10(5.01)]

fig.add_trace(go.Scatter(x=[1], y=[None], xaxis="x2", showlegend=False, hoverinfo="skip"))

fig.update_layout(
    width=752, height=977,
    margin=dict(l=65, r=10, t=10, b=52),
    paper_bgcolor="white", plot_bgcolor="white",
    font=dict(family=FONT, size=14, color="#333"),
    annotations=annotations,
    xaxis=dict(
        type="log", range=x_range, tickvals=x_ticks,
        ticktext=[str(v) for v in x_ticks], automargin=False,
        ticks="inside", ticklen=8, tickwidth=1, tickcolor="#333",
        showline=True, linecolor="#333", linewidth=1, mirror="ticks",
        showgrid=False, zeroline=False, ticklabelstandoff=5,
        tickfont=dict(size=14, color="#333"),
        minor=dict(tickvals=x_minor, ticks="inside", ticklen=5, tickcolor="#333"),
        title=dict(text="Wavelength (µm)", font=dict(size=13, color="#333"), standoff=6),
    ),
    xaxis2=dict(
        type="log", range=x_range, overlaying="x", anchor="y", side="bottom",
        tickvals=x_long, ticks="inside", ticklen=16, tickcolor="#333", automargin=False,
        showticklabels=False, showgrid=False, zeroline=False, showline=False,
    ),
    yaxis=dict(
        range=[-0.4, 80.4], tickvals=list(range(0, 81, 5)), automargin=False,
        ticks="inside", ticklen=10, tickwidth=1, tickcolor="#333",
        showline=True, linecolor="#333", linewidth=1, mirror="ticks",
        showgrid=False, zeroline=False, ticklabelstandoff=7,
        tickfont=dict(size=14, color="#333"),
        minor=dict(dtick=1, ticks="inside", ticklen=5, tickcolor="#333"),
        title=dict(text="Relative altitude in scale heights, <i>z</i>(<i>λ</i>)/<i>H</i><sub>eq</sub>",
                   font=dict(size=13, color="#333"), standoff=14),
    ),
)

# the page body has a default margin; remove it so the figure fills the window
fig.write_html("out.html", config={"displayModeBar": False},
               post_script="document.body.style.margin = '0px';")
